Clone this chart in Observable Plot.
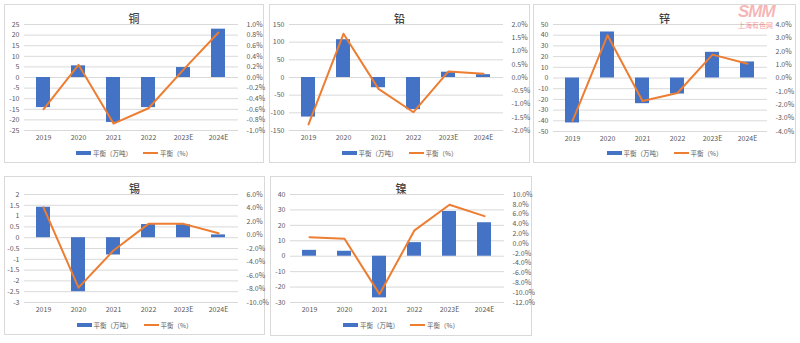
<!DOCTYPE html>
<html><head><meta charset="utf-8">
<script src="https://cdn.jsdelivr.net/npm/d3@7"></script>
<script src="https://cdn.jsdelivr.net/npm/@observablehq/plot@0.6"></script>
<style>
  html,body{margin:0;padding:0;background:#fff;}
  body{width:800px;height:343px;position:relative;overflow:hidden;font-family:"Noto Sans CJK SC","Noto Sans",sans-serif;}
  .panel{position:absolute;border:1px solid #d9d9d9;box-sizing:border-box;background:#fff;}
  .title{position:absolute;left:0;right:0;text-align:center;font-size:11px;font-weight:500;color:#404040;line-height:12px;}
  .legend{position:absolute;left:0;right:0;display:flex;justify-content:center;align-items:center;font-size:6.5px;color:#595959;height:8px;}
  .sw-bar{display:inline-block;width:15px;height:4px;background:#4472C4;margin-right:2px;}
  .sw-line{display:inline-block;width:15px;height:2px;background:#ED7D31;margin-right:2px;margin-left:11px;}
  .panel svg{position:absolute;left:0;overflow:visible;}
  .wm{position:absolute;color:rgba(238,90,90,0.45);white-space:nowrap;}
</style>
</head><body>
<script>
const years = ["2019","2020","2021","2022","2023E","2024E"];

// 铜
const cuBal = [-14.2, 5.5, -21.2, -14.2, 4.7, 22.8];
const cuPct = [-0.60, 0.24, -0.87, -0.58, 0.15, 0.85];
const cuLeftTicks = [-25,-20,-15,-10,-5,0,5,10,15,20,25];
const cuRightTicks = [-1.0,-0.8,-0.6,-0.4,-0.2,0,0.2,0.4,0.6,0.8,1.0];
// 铅
const pbBal = [-112, 107, -29, -91, 15, 8];
const pbPct = [-1.77, 1.65, -0.43, -1.31, 0.23, 0.14];
const pbLeftTicks = [-150,-100,-50,0,50,100,150];
const pbRightTicks = [-2.0,-1.5,-1.0,-0.5,0,0.5,1.0,1.5,2.0];
// 锌
const znBal = [-42, 43, -24, -15, 24, 15];
const znPct = [-3.2, 3.19, -1.72, -1.12, 1.75, 1.07];
const znLeftTicks = [-50,-40,-30,-20,-10,0,10,20,30,40,50];
const znRightTicks = [-4.0,-3.0,-2.0,-1.0,0,1.0,2.0,3.0,4.0];
// 锡
const snBal = [1.41, -2.5, -0.8, 0.61, 0.6, 0.13];
const snPct = [4.1, -7.8, -2.3, 1.65, 1.65, 0.25];
const snLeftTicks = [-3,-2.5,-2,-1.5,-1,-0.5,0,0.5,1,1.5,2];
const snRightTicks = [-10.0,-8.0,-6.0,-4.0,-2.0,0,2.0,4.0,6.0];
// 镍
const niBal = [3.8, 3.2, -27, 8.8, 29, 21.7];
const niPct = [1.3, 1.0, -10.3, 2.7, 7.9, 5.6];
const niLeftTicks = [-30,-20,-10,0,10,20,30,40];
const niRightTicks = [-12.0,-10.0,-8.0,-6.0,-4.0,-2.0,0,2.0,4.0,6.0,8.0,10.0];

const titles = ["铜","铅","锌","锡","镍"];
const legendBar = "平衡（万吨）";
const legendLine = "平衡（%）";

const panels = [
  {name:titles[0], bal:cuBal, pct:cuPct, lt:cuLeftTicks, rt:cuRightTicks, pos:[4,4,260,159], plotTop:20, plotBottom:126, titleY:7},
  {name:titles[1], bal:pbBal, pct:pbPct, lt:pbLeftTicks, rt:pbRightTicks, pos:[269,4,261,159], plotTop:20, plotBottom:126, titleY:7},
  {name:titles[2], bal:znBal, pct:znPct, lt:znLeftTicks, rt:znRightTicks, pos:[533,4,263,159], plotTop:20, plotBottom:127, titleY:7},
  {name:titles[3], bal:snBal, pct:snPct, lt:snLeftTicks, rt:snRightTicks, pos:[4,176,261,159], plotTop:18, plotBottom:126, titleY:5},
  {name:titles[4], bal:niBal, pct:niPct, lt:niLeftTicks, rt:niRightTicks, pos:[270,176,262,160], plotTop:18, plotBottom:126, titleY:5}
];

for (const p of panels) {
  const [left, top, w, h] = p.pos;
  const div = document.createElement("div");
  div.className = "panel";
  Object.assign(div.style, {left:left+"px", top:top+"px", width:w+"px", height:h+"px"});
  document.body.appendChild(div);

  const t = document.createElement("div");
  t.className = "title"; t.textContent = p.name; t.style.top = p.titleY + "px";
  div.appendChild(t);

  const L0 = d3.min(p.lt), L1 = d3.max(p.lt);
  const R0 = d3.min(p.rt), R1 = d3.max(p.rt);
  const toLeft = r => L0 + (r - R0) * (L1 - L0) / (R1 - R0);
  const toRight = l => R0 + (l - L0) * (R1 - R0) / (L1 - L0);

  const data = years.map((y, i) => ({year: y, bal: p.bal[i], pct: toLeft(p.pct[i])}));
  const mt = 4, mb = 20, ml = 19;
  const plotW = 214;
  const svgH = (p.plotBottom - p.plotTop) + mt + mb;

  const chart = Plot.plot({
    width: w - 2, height: svgH,
    marginTop: mt, marginBottom: mb, marginLeft: ml, marginRight: (w - 2) - ml - plotW,
    style: {fontFamily: '"Noto Sans CJK SC","Noto Sans",sans-serif', fontSize: "7px", color: "#595959", background: "transparent", overflow: "visible"},
    x: {domain: years, paddingInner: 0.59, paddingOuter: 0.295},
    y: {domain: [L0, L1]},
    marks: [
      Plot.gridY(p.lt, {stroke: "#d9d9d9", strokeOpacity: 1, strokeWidth: 1}),
      Plot.axisY(p.lt, {anchor: "left", tickSize: 0, tickPadding: 5, label: null, tickFormat: d => String(d)}),
      Plot.axisY(p.rt.map(toLeft), {anchor: "right", tickSize: 0, tickPadding: 8, label: null,
        tickFormat: d => { let r = toRight(d); if (Math.abs(r) < 1e-9) r = 0; return r.toFixed(1) + "%"; }}),
      Plot.axisX({tickSize: 0, tickPadding: 5, label: null}),
      Plot.barY(data, {x: "year", y: "bal", fill: "#4472C4"}),
      Plot.lineY(data, {x: "year", y: "pct", stroke: "#ED7D31", strokeWidth: 2, strokeLinejoin: "round"})
    ]
  });
  chart.style.top = (p.plotTop - mt - 1) + "px";
  div.appendChild(chart);

  const lg = document.createElement("div");
  lg.className = "legend"; lg.style.top = (149 - 4 - 1) + "px";
  lg.innerHTML = '<span class="sw-bar"></span><span>' + legendBar + '</span><span class="sw-line"></span><span>' + legendLine + '</span>';
  div.appendChild(lg);
}

const wm1 = document.createElement("div");
wm1.className = "wm"; wm1.textContent = "SMM";
Object.assign(wm1.style, {left:"738px", top:"3px", fontSize:"17px", fontWeight:"900", fontStyle:"italic", fontFamily:'"Liberation Sans",sans-serif', letterSpacing:"-1px", lineHeight:"17px"});
document.body.appendChild(wm1);
const wm2 = document.createElement("div");
wm2.className = "wm"; wm2.textContent = "上海有色网";
Object.assign(wm2.style, {left:"738px", top:"21px", fontSize:"7px", fontWeight:"700", lineHeight:"8px"});
document.body.appendChild(wm2);
</script>
</body></html>
